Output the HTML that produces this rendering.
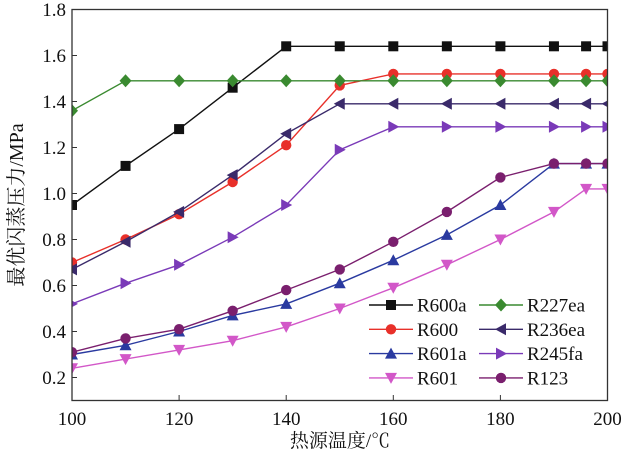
<!DOCTYPE html>
<html><head><meta charset="utf-8"><style>
body{margin:0;background:#fff;width:624px;height:457px;overflow:hidden}
text{font-family:"Liberation Serif","Noto Serif CJK SC",serif;fill:#111}
</style></head><body>
<svg id="chart" width="624" height="457" xmlns="http://www.w3.org/2000/svg">
<defs><clipPath id="clip"><rect x="72" y="9" width="536" height="392"/></clipPath></defs>
<g id="grid"></g>
<g id="series" clip-path="url(#clip)"></g>
<rect x="72" y="9.5" width="535.5" height="391" fill="none" stroke="#333" stroke-width="1.3"/>
<g id="axes"></g>
<text x="340" y="447" font-size="19" text-anchor="middle">热源温度/℃</text>
<text transform="translate(23,205) rotate(-90)" font-size="20" text-anchor="middle">最优闪蒸压力/MPa</text>
<g id="legend"></g>
</svg>
<script>
const xTicks=[100,120,140,160,180,200];
const yTicks=[0.2,0.4,0.6,0.8,1.0,1.2,1.4,1.6,1.8];
const names=["R600a","R600","R601a","R601","R227ea","R236ea","R245fa","R123"];
const xs=[100,110,120,130,140,150,160,170,180,190,196,200];
const vR600a=[0.95,1.12,1.28,1.46,1.64,1.64,1.64,1.64,1.64,1.64,1.64,1.64];
const vR600=[0.70,0.80,0.91,1.05,1.21,1.47,1.52,1.52,1.52,1.52,1.52,1.52];
const vR601a=[0.30,0.34,0.40,0.47,0.52,0.61,0.71,0.82,0.95,1.13,1.13,1.13];
const vR601=[0.24,0.28,0.32,0.36,0.42,0.50,0.59,0.69,0.80,0.92,1.02,1.02];
const vR227ea=[1.36,1.49,1.49,1.49,1.49,1.49,1.49,1.49,1.49,1.49,1.49,1.49];
const vR236ea=[0.67,0.79,0.92,1.08,1.26,1.39,1.39,1.39,1.39,1.39,1.39,1.39];
const vR245fa=[0.52,0.61,0.69,0.81,0.95,1.19,1.29,1.29,1.29,1.29,1.29,1.29];
const vR123=[0.31,0.37,0.41,0.49,0.58,0.67,0.79,0.92,1.07,1.13,1.13,1.13];
const colors=["#111111","#e8302a","#2a3aa0","#d257c8","#3a8a30","#3a2a6a","#7a3ab8","#7a1f6e"];
const markers=["square","circle","up","down","diamond","left","right","circle"];
const vals=[vR600a,vR600,vR601a,vR601,vR227ea,vR236ea,vR245fa,vR123];
const NS="http://www.w3.org/2000/svg";
const X=v=>72+(v-100)/100*535.5;
const Y=v=>400.5-(v-0.1)/1.7*391;
function mk(tag,attrs,parent){const e=document.createElementNS(NS,tag);for(const k in attrs)e.setAttribute(k,attrs[k]);parent.appendChild(e);return e;}
function marker(type,x,y,c,parent){let e;
 if(type==="square")e=mk("rect",{x:x-5,y:y-5,width:10,height:10,fill:c},parent);
 else if(type==="circle")e=mk("circle",{cx:x,cy:y,r:5.2,fill:c},parent);
 else{let p;
  if(type==="up")p=[[x,y-6],[x+6,y+5],[x-6,y+5]];
  else if(type==="down")p=[[x,y+6],[x+6,y-5],[x-6,y-5]];
  else if(type==="left")p=[[x-6,y],[x+5,y-6],[x+5,y+6]];
  else if(type==="right")p=[[x+6,y],[x-5,y-6],[x-5,y+6]];
  else p=[[x,y-6.5],[x+6,y],[x,y+6.5],[x-6,y]];
  e=mk("polygon",{points:p.map(q=>q.join(",")).join(" "),fill:c},parent);}
 
 
 return e;}
const axes=document.getElementById("axes");
xTicks.forEach(t=>{
 const l=mk("line",{x1:X(t),x2:X(t),y1:400,y2:395,stroke:"#333"},axes);
 
 
 const tx=mk("text",{x:X(t),y:425,"font-size":19,"text-anchor":"middle"},axes);tx.textContent=t;
 
 
});
yTicks.forEach(t=>{
 const l=mk("line",{x1:72,x2:77,y1:Y(t),y2:Y(t),stroke:"#333"},axes);
 
 
 const tx=mk("text",{x:66,y:Y(t)+6.5,"font-size":19,"text-anchor":"end"},axes);tx.textContent=t.toFixed(1);
 
 
});
const sg=document.getElementById("series");
vals.forEach((vs,i)=>{
 const g=mk("g",{},sg);
 
 
 const pl=mk("polyline",{points:vs.map((v,j)=>X(xs[j])+","+Y(v)).join(" "),fill:"none",stroke:colors[i],"stroke-width":1.4},g);
 
 
 vs.forEach((v,j)=>marker(markers[i],X(xs[j]),Y(v),colors[i],g));
});
const lg=document.getElementById("legend");


names.forEach((n,i)=>{
 const col=i<4?0:1,row=i%4;
 const x0=col?479:369,y=305+row*24.3;
 const g=mk("g",{},lg);
 
 
 mk("line",{x1:x0,x2:x0+44,y1:y,y2:y,stroke:colors[i],"stroke-width":1.4},g);
 marker(markers[i],x0+22,y,colors[i],g);
 const t=mk("text",{x:x0+48,y:y+6.5,"font-size":19},g);t.textContent=n;
});
</script>
</body></html>
